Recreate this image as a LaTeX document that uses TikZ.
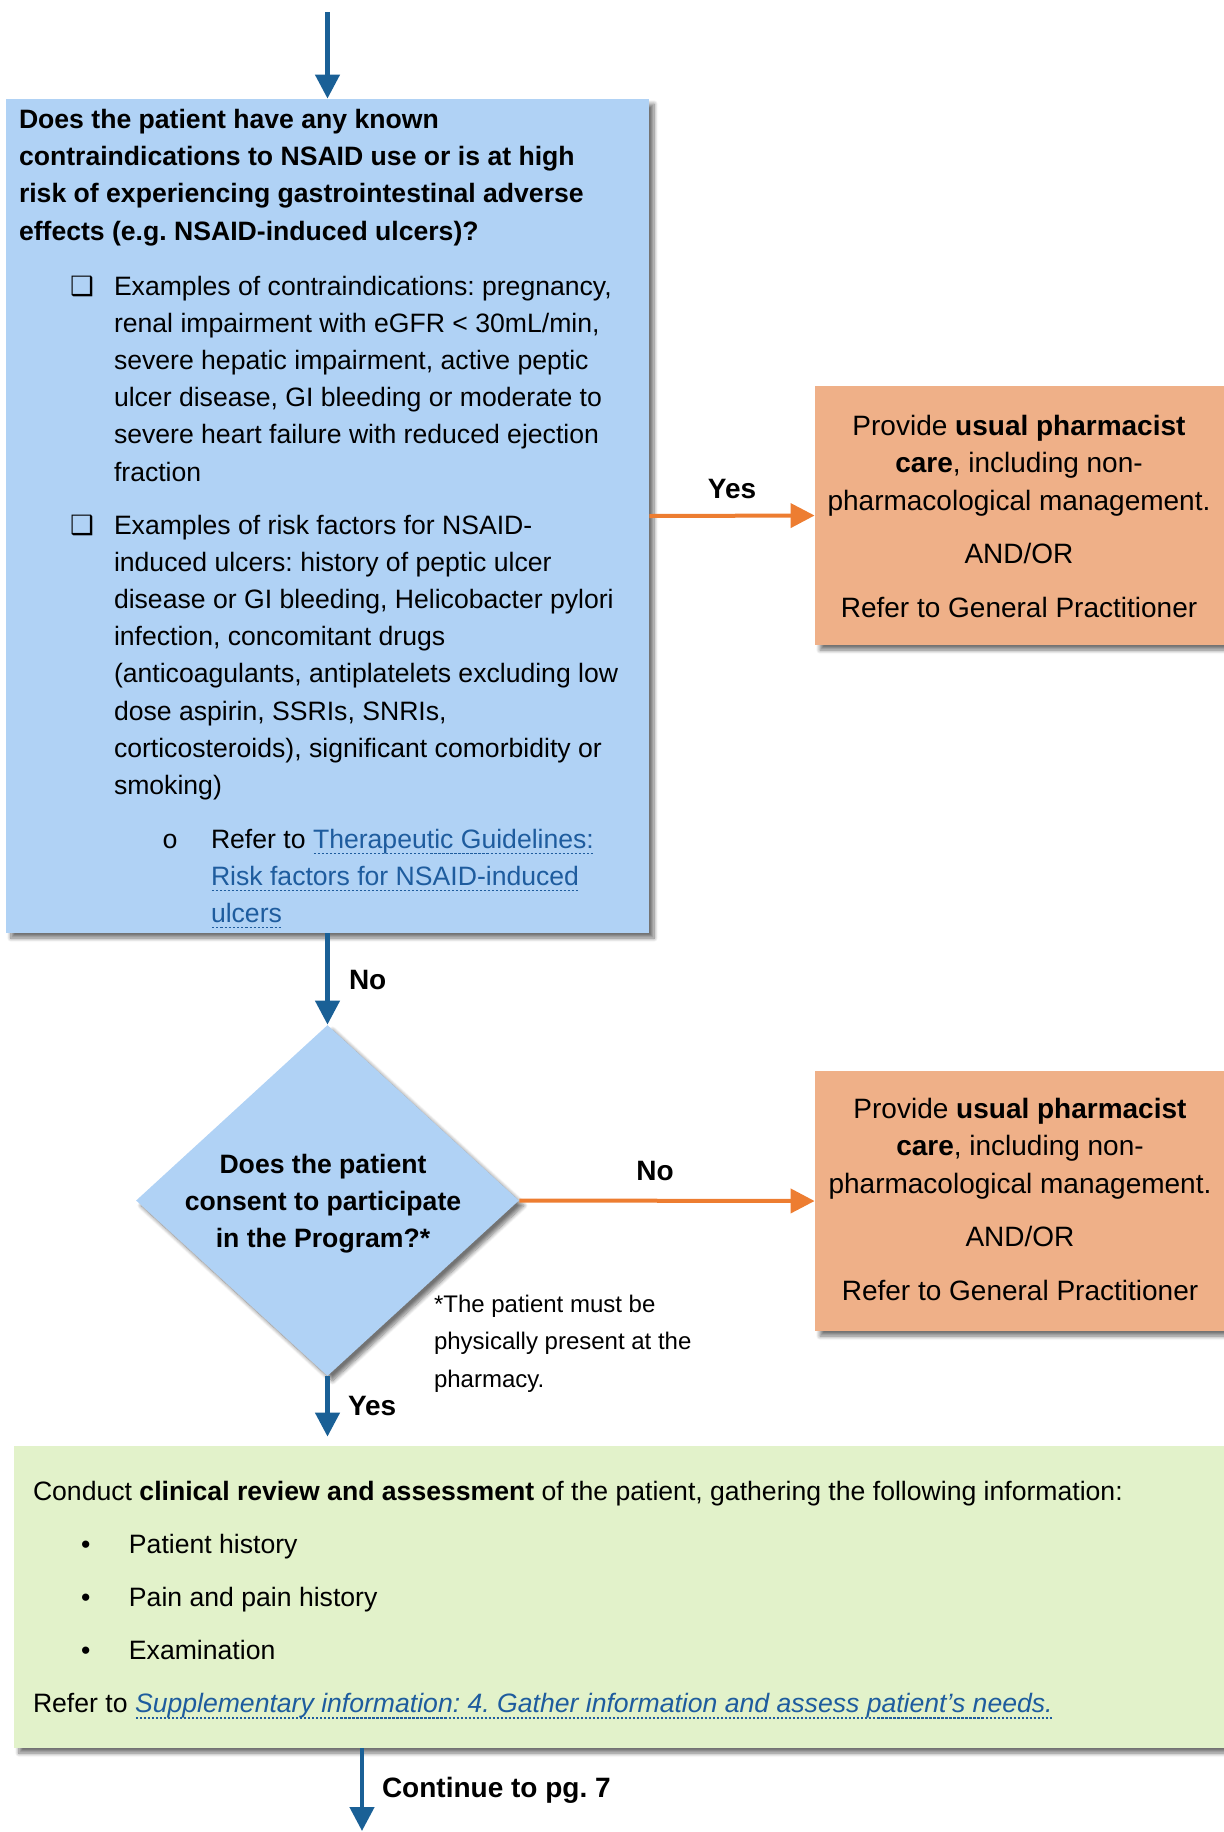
\documentclass[tikz,border=0pt]{standalone}
\usepackage{fontspec}
\setmainfont{Liberation Sans}
\newfontfamily\dejavu{DejaVu Sans}
\newfontfamily\monofam{Liberation Mono}
\usetikzlibrary{arrows.meta,shapes.geometric,shadows.blur}
\frenchspacing
\definecolor{bluefill}{HTML}{B0D2F5}
\definecolor{orangefill}{HTML}{EFB088}
\definecolor{greenfill}{HTML}{E2F2CA}
\definecolor{arrowblue}{HTML}{1A6096}
\definecolor{arroworange}{HTML}{ED7D31}
\definecolor{linkblue}{HTML}{1E5C9E}
\newcommand\fmain{\fontsize{13.3}{18.6}\selectfont}
\newcommand\forg{\fontsize{14}{18.75}\selectfont}
\newcommand\fnote{\fontsize{12}{18.75}\selectfont}
\newsavebox\lnkbox
\newcommand\lnk[1]{\leavevmode\sbox\lnkbox{\color{linkblue}#1}{\color{linkblue}\rlap{\raisebox{-3pt}{\hbox to \wd\lnkbox{\xleaders\hbox to 2pt{\hss\rule{1.1pt}{0.7pt}\hss}\hfill}}}}\usebox\lnkbox}
\begin{document}
\begin{tikzpicture}[x=0.5pt,y=-0.5pt,
  boxshadow/.style={blur shadow={shadow xshift=2.5pt,shadow yshift=-2.5pt,shadow blur radius=2pt,shadow blur steps=8,shadow opacity=55}},
  panel/.style={rectangle, inner sep=0pt, boxshadow},
  txt/.style={inner sep=0pt, outer sep=0pt},
  barrow/.style={draw=arrowblue, line width=2.25pt, -{Triangle[length=12pt,width=12pt]}},
  oarrow/.style={draw=arroworange, line width=2pt, -{Triangle[length=12pt,width=12pt]}},
  lbl/.style={txt, font=\fontsize{14}{16}\selectfont\bfseries}
]
\useasboundingbox (0,0) rectangle (1223,1832);

% panels
\node[panel, fill=bluefill, minimum width=321.5pt, minimum height=417pt] (blue) at (327.5,516) {};
\node[panel, fill=orangefill, minimum width=212.5pt, minimum height=129.5pt] (org1) at (1027.5,515.5) {};
\node[panel, fill=orangefill, minimum width=212.5pt, minimum height=130pt] (org2) at (1027.5,1201) {};
\node[panel, fill=greenfill, minimum width=613pt, minimum height=151pt] (green) at (627,1597) {};
\node[diamond, inner sep=0pt, fill=bluefill, minimum width=191.5pt, minimum height=175.5pt, boxshadow] (dia) at (327.5,1200.5) {};

% connectors
\coordinate (start) at (327.5,12);
\coordinate (cont) at (362,1831);
\draw[barrow] (start) -- (blue.north);
\draw[barrow] (blue.south) -- (dia.north);
\draw[oarrow] (blue.east) -- (org1.west);
\draw[oarrow] (dia.east) -- (org2.west);
\draw[barrow, shorten >=4.5pt] (dia.south) -- (dia.south |- green.north);
\draw[barrow] (green.south -| cont) -- (cont);

% blue box text
\node[txt, anchor=base west] (q1) at (19,128.5) {\parbox[t]{315pt}{\fmain\bfseries\raggedright Does the patient have any known\\contraindications to NSAID use or is at high\\risk of experiencing gastrointestinal adverse\\effects (e.g. NSAID-induced ulcers)?}};
\node[txt, anchor=base west] (cb1) at (70,295) {\dejavu\fontsize{13.3}{16}\selectfont ❑};
\node[txt, anchor=base west] (b1) at (114,295) {\parbox[t]{265pt}{\fmain\raggedright Examples of contraindications: pregnancy,\\renal impairment with eGFR < 30mL/min,\\severe hepatic impairment, active peptic\\ulcer disease, GI bleeding or moderate to\\severe heart failure with reduced ejection\\fraction}};
\node[txt, anchor=base west] (cb2) at (70,534) {\dejavu\fontsize{13.3}{16}\selectfont ❑};
\node[txt, anchor=base west] (b2) at (114,534) {\parbox[t]{265pt}{\fmain\raggedright Examples of risk factors for NSAID-\\induced ulcers: history of peptic ulcer\\disease or GI bleeding, Helicobacter pylori\\infection, concomitant drugs\\(anticoagulants, antiplatelets excluding low\\dose aspirin, SSRIs, SNRIs,\\corticosteroids), significant comorbidity or\\smoking)}};
\node[txt, anchor=base] (sb) at (170,848) {\monofam\fontsize{13.3}{16}\selectfont o};
\node[txt, anchor=base west] (b3) at (211,848) {\parbox[t]{220pt}{\fmain\raggedright Refer to \lnk{Therapeutic Guidelines:}\\\lnk{Risk factors for NSAID-induced}\\\lnk{ulcers}}};

% orange texts
\node[txt, anchor=base] (ot1) at (1019,435) {\parbox[t]{205pt}{\forg\centering Provide \textbf{usual pharmacist}\\\textbf{care}, including non-\\pharmacological management.\\[8pt]AND/OR\\[8pt]Refer to General Practitioner}};
\node[txt, anchor=base] (ot2) at (1020,1118) {\parbox[t]{205pt}{\forg\centering Provide \textbf{usual pharmacist}\\\textbf{care}, including non-\\pharmacological management.\\[8pt]AND/OR\\[8pt]Refer to General Practitioner}};

% diamond text and note
\node[txt, anchor=base] (dt) at (323,1173) {\parbox[t]{150pt}{\fontsize{13.3}{18.5}\selectfont\bfseries\centering Does the patient\\consent to participate\\in the Program?*}};
\node[txt, anchor=base west] (note) at (434,1312) {\parbox[t]{140pt}{\fnote\raggedright *The patient must be\\physically present at the\\pharmacy.}};

% green text
\node[txt, anchor=base west] (gt) at (33,1500) {\parbox[t]{600pt}{\fmain\raggedright Conduct \textbf{clinical review and assessment} of the patient, gathering the following information:\\[8pt]
\makebox[48pt][l]{\hspace*{24pt}•}Patient history\\[8pt]
\makebox[48pt][l]{\hspace*{24pt}•}Pain and pain history\\[8pt]
\makebox[48pt][l]{\hspace*{24pt}•}Examination\\[8pt]
Refer to {\itshape\lnk{Supplementary information: 4. Gather information and assess patient’s needs.}}}};

% labels
\node[lbl, anchor=base] (yes1) at (732,498) {Yes};
\node[lbl, anchor=base] (no2) at (655,1180) {No};
\node[lbl, anchor=base west] (no1) at (349,989) {No};
\node[lbl, anchor=base west] (yes2) at (348,1415) {Yes};
\node[lbl, anchor=base west] (contlbl) at (382,1797) {Continue to pg. 7};
\end{tikzpicture}
\end{document}
